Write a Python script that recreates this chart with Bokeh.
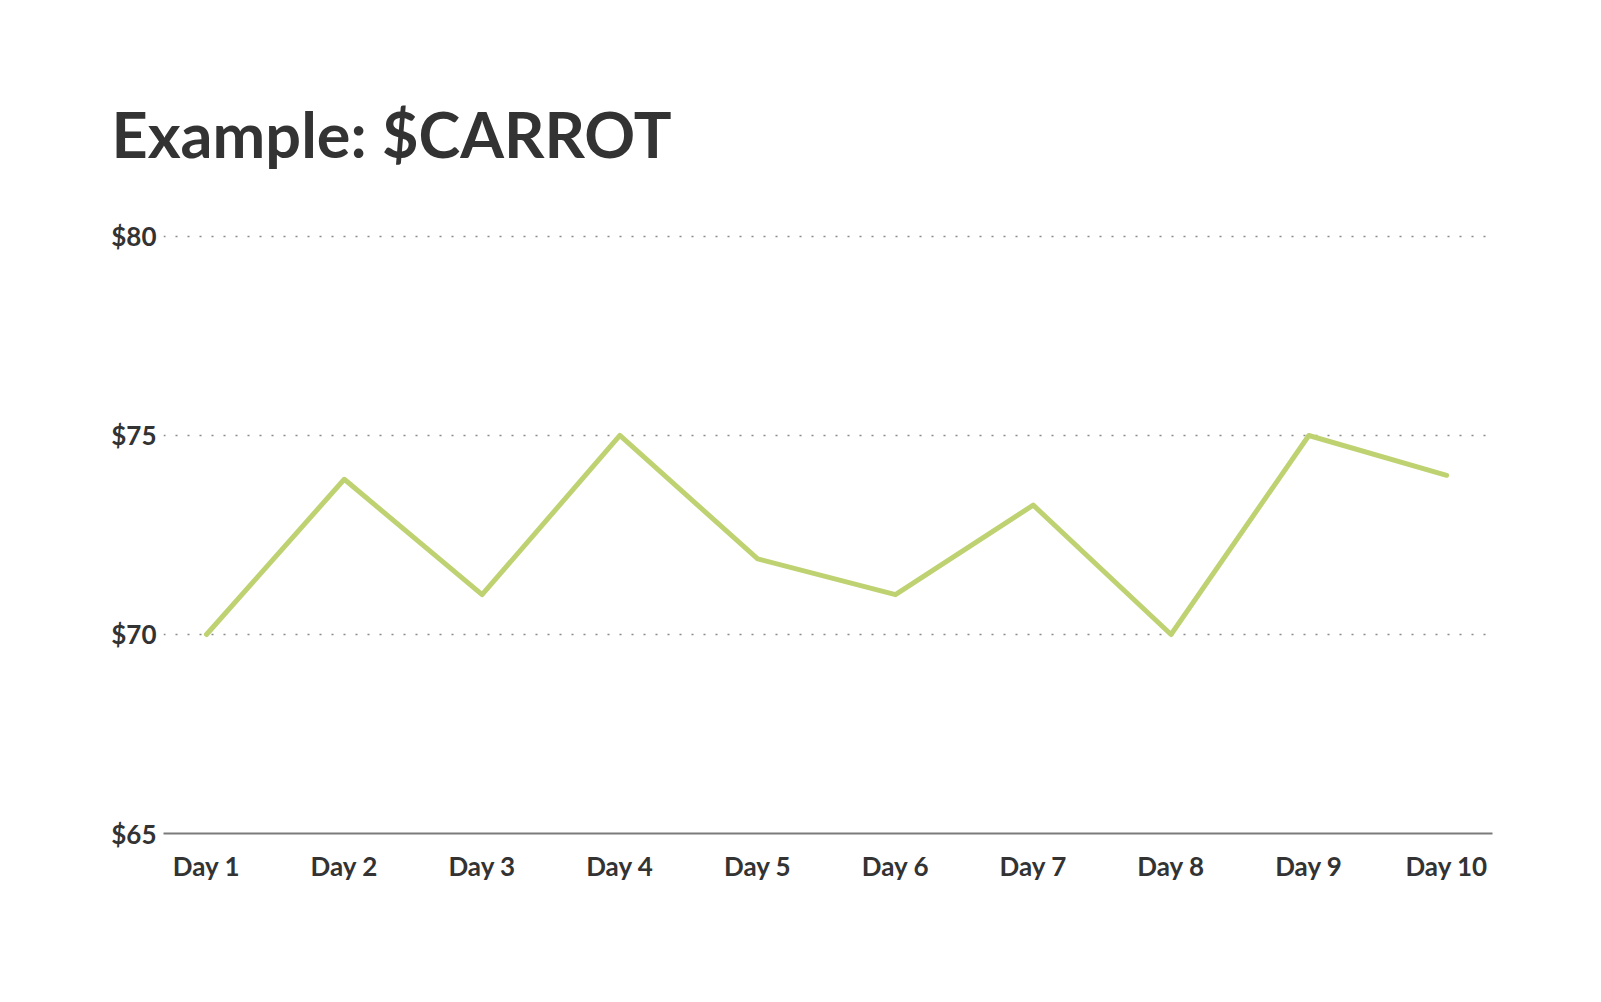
from bokeh.plotting import figure
from bokeh.models import Range1d, FixedTicker, Title
from bokeh.embed import file_html
from bokeh.resources import INLINE

# ---- data ----
title_text = "Example: $CARROT"
days = ["Day 1", "Day 2", "Day 3", "Day 4", "Day 5", "Day 6", "Day 7", "Day 8", "Day 9", "Day 10"]
day_index = [1, 2, 3, 4, 5, 6, 7, 8, 9, 10]
price = [70.0, 73.9, 71.0, 75.0, 71.9, 71.0, 73.25, 70.0, 75.0, 74.0]
y_ticks = [65, 70, 75, 80]
y_tick_labels = {65: "$65", 70: "$70", 75: "$75", 80: "$80"}

FONT = "Lato"
TEXT = "#333333"

x_start, x_end = 0.688, 10.333
p = figure(
    width=1585, height=986,
    x_range=Range1d(x_start, x_end), y_range=Range1d(65, 80.1),
    output_backend="svg", toolbar_location=None,
    min_border_left=163, min_border_right=93,
    min_border_top=232, min_border_bottom=153,
    background_fill_color="white", border_fill_color="white",
)
p.outline_line_color = None

p.line(day_index, price, line_color="#BFD272", line_width=5,
       line_join="round", line_cap="round")

# x axis
p.xaxis.ticker = FixedTicker(ticks=day_index)
p.xaxis.major_label_overrides = {i: d for i, d in zip(day_index, days)}
p.xaxis.axis_line_color = "#7b7b7b"
p.xaxis.axis_line_width = 2
p.xaxis.major_tick_line_color = None
p.xaxis.minor_tick_line_color = None
p.xaxis.major_label_standoff = 10
p.xaxis.major_label_text_font = FONT
p.xaxis.major_label_text_font_style = "bold"
p.xaxis.major_label_text_font_size = "26px"
p.xaxis.major_label_text_color = TEXT

# y axis
p.yaxis.ticker = FixedTicker(ticks=y_ticks)
p.yaxis.major_label_overrides = y_tick_labels
p.yaxis.axis_line_color = None
p.yaxis.major_tick_line_color = None
p.yaxis.minor_tick_line_color = None
p.yaxis.major_label_standoff = 1
p.yaxis.major_label_text_font = FONT
p.yaxis.major_label_text_font_style = "bold"
p.yaxis.major_label_text_font_size = "26px"
p.yaxis.major_label_text_color = TEXT

# grid
p.xgrid.grid_line_color = None
p.ygrid.grid_line_color = "#8a8a8a"
p.ygrid.grid_line_width = 1.5
p.ygrid.grid_line_dash = "2 10"

# title
p.add_layout(Title(
    text=title_text, text_font=FONT, text_font_style="bold",
    text_font_size="63px", text_color=TEXT, align="left",
    offset=-52, standoff=124,
), "above")

open("out.html", "w").write(file_html(p, INLINE))
